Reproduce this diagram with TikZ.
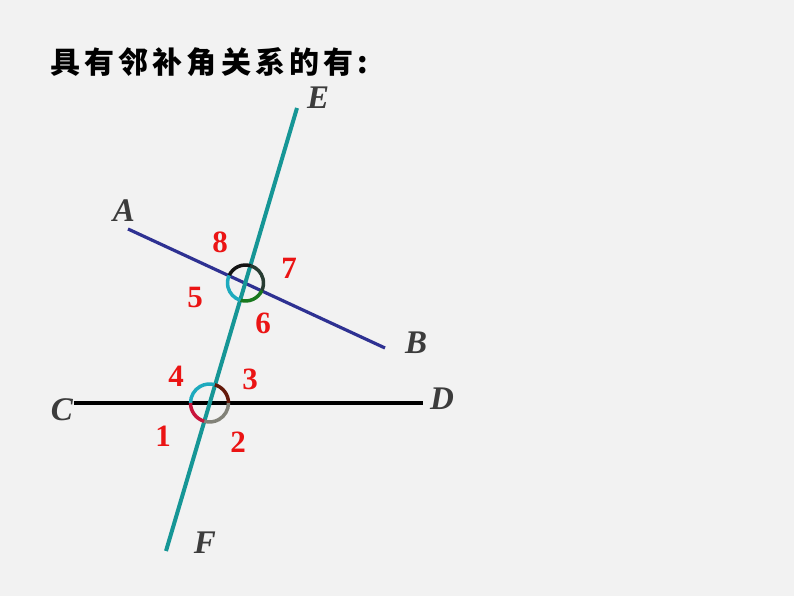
\documentclass[tikz,border=0pt]{standalone}
\usepackage{fontspec}
\setmainfont{Liberation Serif}
\newfontfamily\cjk[LetterSpace=14]{Noto Sans CJK SC}
\definecolor{bg}{RGB}{242,242,242}
\definecolor{teal1}{RGB}{22,150,150}
\definecolor{navy1}{RGB}{46,49,146}
\definecolor{lbl}{RGB}{60,60,60}
\definecolor{numred}{RGB}{235,20,20}
\definecolor{arcblack}{RGB}{20,20,20}
\definecolor{arcdark}{RGB}{40,60,50}
\definecolor{arcgreen}{RGB}{25,120,30}
\definecolor{arccyan}{RGB}{30,170,190}
\definecolor{arcbrown}{RGB}{100,25,10}
\definecolor{arcgray}{RGB}{130,130,120}
\definecolor{arcred}{RGB}{200,20,60}
\tikzset{
  ptlbl/.style={font=\fontsize{33}{36}\selectfont\bfseries\itshape, text=lbl, inner sep=0pt},
  numlbl/.style={font=\fontsize{31}{34}\selectfont\bfseries, text=numred, inner sep=0pt},
  anglearc/.style={line width=3.5pt},
}
\begin{document}
\begin{tikzpicture}[x=1pt,y=1pt]
\useasboundingbox (0,0) rectangle (794,596);
\fill[bg] (0,0) rectangle (794,596);
% title
\node[anchor=west, inner sep=0pt, font=\cjk\fontsize{30}{34}\selectfont\bfseries] (title) at (50,534) {具有邻补角关系的有:};
% line end points
\coordinate (E) at (297,488);
\coordinate (F) at (166,45);
\coordinate (A) at (128,367);
\coordinate (B) at (385,248);
\coordinate (C) at (74,193);
\coordinate (D) at (423,193);
\coordinate (P) at (245.5,313);
\coordinate (Q) at (209.5,193);
% lines
\draw[line width=3.5pt, black] (C) -- (D);
\draw[line width=3.2pt, navy1] (A) -- (B);
\draw[line width=4pt, teal1] (E) -- (F);
% upper arcs
\draw[anglearc, arcblack] ([shift={(155.2:18)}]P) arc[start angle=155.2, end angle=73.5, radius=18];
\draw[anglearc, arcdark] ([shift={(73.5:18)}]P) arc[start angle=73.5, end angle=-24.8, radius=18];
\draw[anglearc, arcgreen] ([shift={(-24.8:18)}]P) arc[start angle=-24.8, end angle=-106.5, radius=18];
\draw[anglearc, arccyan] ([shift={(253.5:18)}]P) arc[start angle=253.5, end angle=155.2, radius=18];
% lower arcs
\draw[anglearc, arccyan] ([shift={(180:19)}]Q) arc[start angle=180, end angle=73.5, radius=19];
\draw[anglearc, arcbrown] ([shift={(73.5:19)}]Q) arc[start angle=73.5, end angle=0, radius=19];
\draw[anglearc, arcgray] ([shift={(0:19)}]Q) arc[start angle=0, end angle=-106.5, radius=19];
\draw[anglearc, arcred] ([shift={(253.5:19)}]Q) arc[start angle=253.5, end angle=180, radius=19];
% point labels
\node[ptlbl] (lE) at (318,498) {E};
\node[ptlbl] (lA) at (124,385) {A};
\node[ptlbl] (lB) at (416,253) {B};
\node[ptlbl] (lC) at (62,186) {C};
\node[ptlbl] (lD) at (442,197) {D};
\node[ptlbl] (lF) at (205,53) {F};
% angle numbers
\node[numlbl] (n8) at (220,354) {8};
\node[numlbl] (n7) at (289,328) {7};
\node[numlbl] (n5) at (195,298) {5};
\node[numlbl] (n6) at (263,273) {6};
\node[numlbl] (n4) at (176,220) {4};
\node[numlbl] (n3) at (250,217) {3};
\node[numlbl] (n1) at (163,160) {1};
\node[numlbl] (n2) at (238,154) {2};
\end{tikzpicture}
\end{document}
